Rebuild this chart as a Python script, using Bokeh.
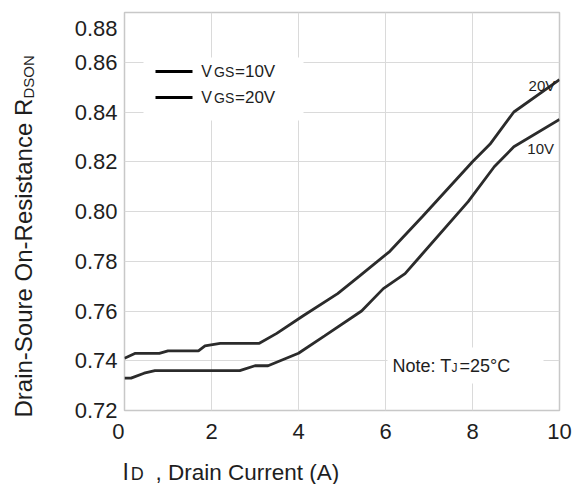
from bokeh.plotting import figure
from bokeh.models import Range1d, FixedTicker, PrintfTickFormatter, Label, BoxAnnotation
from bokeh.embed import file_html
from bokeh.resources import INLINE
import math

# ---- data ----
id_20v = [0, 0.25, 0.8, 1.0, 1.7, 1.85, 2.2, 3.1, 3.5, 4.1, 4.9, 5.4, 6.1, 6.85, 8.0, 8.4, 8.95, 10.0]
r_20v = [0.741, 0.743, 0.743, 0.744, 0.744, 0.746, 0.747, 0.747, 0.751, 0.758, 0.767, 0.774,
         0.784, 0.798, 0.820, 0.827, 0.840, 0.853]
id_10v = [0, 0.15, 0.45, 0.7, 2.65, 3.0, 3.3, 4.0, 4.6, 5.45, 5.95, 6.45, 6.8, 7.9, 8.5, 8.95, 10.0]
r_10v = [0.733, 0.733, 0.735, 0.736, 0.736, 0.738, 0.738, 0.743, 0.750, 0.760, 0.769, 0.775,
         0.782, 0.804, 0.818, 0.826, 0.837]
x_ticks = [0, 2, 4, 6, 8, 10]
y_ticks = [0.72, 0.74, 0.76, 0.78, 0.80, 0.82, 0.84, 0.86, 0.88]

FONT = "Liberation Sans"
TXT = "#1e1e1e"
LINE = "#2b2b2b"

p = figure(width=574, height=484, output_backend="svg", toolbar_location=None,
           x_range=Range1d(0, 10), y_range=Range1d(0.72, 0.88),
           min_border_left=124, min_border_right=15, min_border_top=12, min_border_bottom=74)

p.outline_line_color = "#c8c8c8"
p.outline_line_width = 1.5
p.background_fill_color = "white"
p.border_fill_color = "white"

for ax in (p.xaxis[0], p.yaxis[0]):
    ax.axis_line_color = None
    ax.major_tick_line_color = None
    ax.minor_tick_line_color = None
    ax.major_tick_out = 0
    ax.major_tick_in = 0
    ax.major_label_text_font = FONT
    ax.major_label_text_font_size = "22px"
    ax.major_label_text_color = TXT

p.xaxis[0].ticker = FixedTicker(ticks=x_ticks)
p.yaxis[0].ticker = FixedTicker(ticks=y_ticks)
p.yaxis[0].formatter = PrintfTickFormatter(format="%.2f")
p.xaxis[0].major_label_standoff = 8
p.yaxis[0].major_label_standoff = 7
# edge labels sit slightly inside in the reference
p.xaxis[0].major_label_overrides = {x_ticks[0]: "0\u00a0\u00a0"}
p.yaxis[0].major_label_overrides = {y_ticks[-1]: "\n0.88"}
p.yaxis[0].major_label_text_line_height = 0.6

p.xgrid.ticker = FixedTicker(ticks=x_ticks[1:])
p.ygrid.ticker = FixedTicker(ticks=y_ticks[:-1])
p.grid.grid_line_color = "#dadada"
p.grid.grid_line_width = 1

# curves
p.line(id_10v, r_10v, line_color=LINE, line_width=2.8)
p.line(id_20v, r_20v, line_color=LINE, line_width=2.8)

def lab(text, x, y, size, units="screen", align="left", baseline="middle", angle=0,
        place="center", xo=0, yo=0):
    L = Label(x=x, y=y, x_units=units, y_units=units, text=text,
              text_font=FONT, text_font_size=size, text_color=TXT,
              text_align=align, text_baseline=baseline, angle=angle,
              x_offset=xo, y_offset=yo)
    p.add_layout(L, place)

# curve labels
lab("20V", 9.29, 0.8507, "15px", units="data")
lab("10V", 9.26, 0.8253, "15px", units="data")

# legend (white box covering grid)
def sbox(l, r, b, t, color):
    p.add_layout(BoxAnnotation(left=l, right=r, bottom=b, top=t,
                               left_units="screen", right_units="screen",
                               bottom_units="screen", top_units="screen",
                               fill_color=color, fill_alpha=1, line_color=None))

sbox(19, 179, 290, 353, "white")
for yc in (339, 313):
    sbox(31, 68, yc - 1.5, yc + 1.5, "black")
for dy, v in ((0, "=10V"), (-26, "=20V")):
    lab("V", 76.7, 338.9 + dy, "16px")
    lab("GS", 89.5, 338.2 + dy, "14px")
    lab(v, 110.5, 339.25 + dy, "17px")

# note box
sbox(263, 419, 27, 63, "white")
lab("Note: T", 268, 44.6, "18px")
lab("J", 327, 42.5, "12px")
lab("=25°C", 335, 44.6, "18px")

# axis titles: anchored at the frame's lower-left corner (data 0, 0.72), placed in side
# panels so they are not clipped to the frame
x0, y0 = x_ticks[0], y_ticks[0]
lab(", Drain Current (A)", x0, y0, "22.5px", units="data", place="below", xo=31, yo=-61.5)
lab("I", x0, y0, "23px", units="data", place="left", xo=-2, yo=-61.3)
lab("D", x0, y0, "18px", units="data", place="left", xo=6.3, yo=-63)
lab("Drain-Soure On-Resistance R", x0, y0, "24px", units="data", angle=math.pi / 2,
    place="left", xo=-100.7, yo=-7)
lab("DSON", x0, y0, "15px", units="data", angle=math.pi / 2, place="left", xo=-96.3, yo=312)

open("out.html", "w").write(file_html(p, INLINE))
